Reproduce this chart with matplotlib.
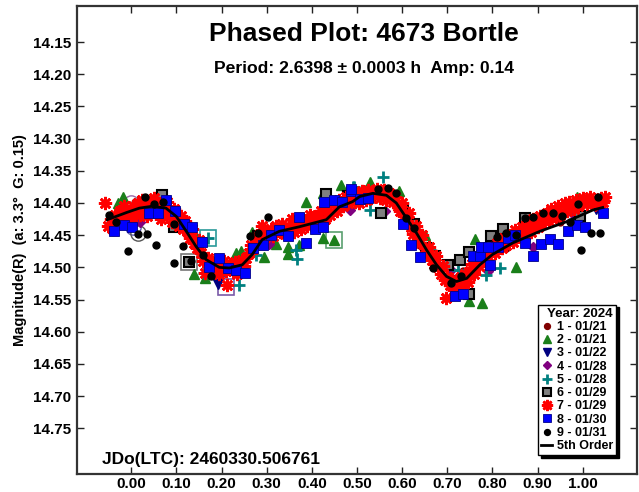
import numpy as np
import matplotlib
matplotlib.use('Agg')
import matplotlib.pyplot as plt

plt.rcParams['font.family'] = ['Liberation Sans', 'DejaVu Sans']
plt.rcParams['font.weight'] = 'bold'

# ---------- 数据：各观测夜的相位与星等 ----------
# 1 - 01/21
p1 = [0.000, 0.060, 0.205, 0.300, 0.535, 0.640, 0.735, 0.830, 0.950]
m1 = [14.415, 14.410, 14.500, 14.455, 14.390, 14.465, 14.505, 14.470, 14.430]

# 2 - 01/21
p2 = [-0.030, -0.019, 0.140, 0.140, 0.164, 0.232, 0.243, 0.268, 0.295, 0.321,
      0.347, 0.347, 0.371, 0.387, 0.424, 0.424, 0.450, 0.465, 0.491, 0.528,
      0.594, 0.650, 0.749, 0.761, 0.777, 0.853, 0.986]
m2 = [14.400, 14.390, 14.447, 14.510, 14.517, 14.478, 14.474, 14.445, 14.484, 14.463,
      14.469, 14.479, 14.465, 14.399, 14.385, 14.455, 14.457, 14.372, 14.380, 14.368,
      14.382, 14.450, 14.552, 14.456, 14.556, 14.500, 14.391]

# 3 - 01/22
p3 = [0.050, 0.192, 0.200, 0.430, 0.600, 0.680, 0.720, 0.880, 0.990, 1.030]
m3 = [14.410, 14.526, 14.510, 14.420, 14.410, 14.500, 14.520, 14.450, 14.420, 14.410]

# 4 - 01/28
p4 = [0.020, 0.150, 0.250, 0.306, 0.400, 0.484, 0.561, 0.655, 0.709, 0.790,
      0.890, 0.976]
m4 = [14.430, 14.460, 14.490, 14.464, 14.430, 14.411, 14.412, 14.470, 14.504, 14.505,
      14.468, 14.416]

# 5 - 01/28
p5 = [0.020, 0.162, 0.171, 0.239, 0.276, 0.365, 0.367, 0.491, 0.494, 0.528,
      0.557, 0.661, 0.724, 0.786, 0.816, 0.920, 0.949]
m5 = [14.400, 14.509, 14.455, 14.527, 14.481, 14.473, 14.487, 14.375, 14.375, 14.411,
      14.360, 14.473, 14.504, 14.512, 14.501, 14.424, 14.411]

# 6 - 01/29
p6 = [0.069, 0.095, 0.129, 0.280, 0.432, 0.480, 0.480, 0.554, 0.602, 0.627,
      0.653, 0.672, 0.702, 0.727, 0.749, 0.749, 0.797, 0.823, 0.871, 0.993]
m6 = [14.388, 14.437, 14.491, 14.452, 14.386, 14.389, 14.390, 14.416, 14.408, 14.433,
      14.470, 14.483, 14.496, 14.489, 14.476, 14.541, 14.452, 14.441, 14.424, 14.420]

# 7 - 01/29
p7 = [-0.058, -0.052, -0.045, -0.040, -0.035, -0.030, -0.025, -0.020, -0.015, -0.010,
      -0.005, 0.000, 0.005, 0.010, 0.015, 0.020, 0.025, 0.030, 0.035, 0.040,
      0.045, 0.050, 0.055, 0.060, 0.065, 0.070, 0.075, 0.080, 0.085, 0.090,
      0.095, 0.100, 0.105, 0.110, 0.115, 0.120, 0.125, 0.130, 0.135, 0.140,
      0.145, 0.150, 0.155, 0.160, 0.163, 0.170, 0.175, 0.180, 0.185, 0.190,
      0.195, 0.200, 0.205, 0.210, 0.212, 0.218, 0.225, 0.230, 0.235, 0.240,
      0.245, 0.250, 0.255, 0.260, 0.265, 0.270, 0.275, 0.280, 0.285, 0.290,
      0.295, 0.300, 0.310, 0.315, 0.320, 0.330, 0.335, 0.340, 0.350, 0.355,
      0.360, 0.370, 0.375, 0.380, 0.390, 0.395, 0.400, 0.410, 0.415, 0.420,
      0.430, 0.435, 0.440, 0.450, 0.455, 0.460, 0.470, 0.475, 0.480, 0.490,
      0.495, 0.500, 0.505, 0.510, 0.520, 0.525, 0.530, 0.540, 0.545, 0.550,
      0.560, 0.565, 0.570, 0.580, 0.585, 0.590, 0.595, 0.600, 0.605, 0.610,
      0.615, 0.620, 0.625, 0.630, 0.635, 0.640, 0.645, 0.650, 0.655, 0.660,
      0.665, 0.670, 0.675, 0.680, 0.685, 0.690, 0.695, 0.698, 0.700, 0.705,
      0.710, 0.715, 0.720, 0.725, 0.730, 0.735, 0.740, 0.745, 0.750, 0.755,
      0.760, 0.765, 0.770, 0.775, 0.780, 0.785, 0.790, 0.800, 0.805, 0.810,
      0.820, 0.825, 0.830, 0.840, 0.845, 0.850, 0.860, 0.865, 0.870, 0.880,
      0.885, 0.890, 0.900, 0.905, 0.910, 0.920, 0.925, 0.930, 0.940, 0.945,
      0.950, 0.960, 0.965, 0.970, 0.980, 0.985, 0.990, 1.000, 1.010, 1.015,
      1.020, 1.030, 1.035, 1.040, 1.045, 1.050]
m7 = [14.400, 14.435, 14.425, 14.440, 14.418, 14.430, 14.412, 14.425, 14.405, 14.420,
      14.412, 14.428, 14.405, 14.415, 14.400, 14.418, 14.395, 14.410, 14.420, 14.398,
      14.410, 14.392, 14.415, 14.400, 14.425, 14.405, 14.415, 14.398, 14.420, 14.430,
      14.410, 14.425, 14.435, 14.420, 14.440, 14.428, 14.445, 14.455, 14.440, 14.462,
      14.470, 14.458, 14.478, 14.490, 14.508, 14.485, 14.498, 14.492, 14.505, 14.495,
      14.510, 14.500, 14.490, 14.505, 14.527, 14.495, 14.505, 14.492, 14.510, 14.500,
      14.488, 14.498, 14.485, 14.478, 14.465, 14.472, 14.455, 14.462, 14.448, 14.435,
      14.455, 14.445, 14.440, 14.452, 14.435, 14.445, 14.432, 14.448, 14.438, 14.425,
      14.445, 14.432, 14.440, 14.425, 14.435, 14.418, 14.430, 14.420, 14.435, 14.412,
      14.425, 14.405, 14.418, 14.400, 14.412, 14.395, 14.405, 14.390, 14.400, 14.385,
      14.398, 14.388, 14.400, 14.382, 14.395, 14.380, 14.392, 14.385, 14.378, 14.392,
      14.380, 14.395, 14.385, 14.398, 14.390, 14.405, 14.412, 14.400, 14.420, 14.428,
      14.415, 14.438, 14.448, 14.435, 14.455, 14.462, 14.450, 14.470, 14.480, 14.468,
      14.488, 14.495, 14.482, 14.500, 14.510, 14.498, 14.520, 14.548, 14.515, 14.528,
      14.518, 14.535, 14.522, 14.540, 14.515, 14.528, 14.510, 14.522, 14.505, 14.495,
      14.510, 14.488, 14.498, 14.480, 14.490, 14.472, 14.482, 14.470, 14.478, 14.462,
      14.470, 14.455, 14.465, 14.450, 14.460, 14.442, 14.452, 14.438, 14.448, 14.432,
      14.445, 14.425, 14.438, 14.420, 14.432, 14.415, 14.428, 14.410, 14.422, 14.405,
      14.418, 14.400, 14.412, 14.398, 14.410, 14.395, 14.405, 14.392, 14.402, 14.390,
      14.400, 14.395, 14.405, 14.392, 14.398, 14.390]

# 8 - 01/30
p8 = [-0.038, -0.017, 0.001, 0.040, 0.060, 0.078, 0.098, 0.118, 0.135, 0.156,
      0.173, 0.195, 0.214, 0.232, 0.251, 0.269, 0.291, 0.310, 0.328, 0.347,
      0.371, 0.387, 0.406, 0.424, 0.428, 0.448, 0.467, 0.486, 0.487, 0.506,
      0.524, 0.602, 0.620, 0.639, 0.716, 0.735, 0.757, 0.772, 0.775, 0.790,
      0.794, 0.812, 0.834, 0.849, 0.871, 0.890, 0.908, 0.927, 0.945, 0.968,
      0.986, 1.005, 1.045]
m8 = [14.443, 14.434, 14.438, 14.416, 14.416, 14.396, 14.412, 14.433, 14.437, 14.460,
      14.500, 14.486, 14.501, 14.504, 14.509, 14.470, 14.465, 14.450, 14.442, 14.452,
      14.421, 14.462, 14.441, 14.438, 14.398, 14.395, 14.399, 14.381, 14.379, 14.394,
      14.393, 14.432, 14.465, 14.484, 14.544, 14.541, 14.483, 14.483, 14.469, 14.468,
      14.496, 14.468, 14.455, 14.450, 14.462, 14.482, 14.463, 14.456, 14.464, 14.443,
      14.434, 14.438, 14.415]

# 9 - 01/31
p9 = [-0.050, -0.033, -0.006, 0.016, 0.031, 0.036, 0.051, 0.055, 0.071, 0.095,
      0.095, 0.115, 0.132, 0.158, 0.177, 0.262, 0.280, 0.302, 0.546, 0.568,
      0.587, 0.609, 0.627, 0.668, 0.709, 0.731, 0.809, 0.831, 0.853, 0.871,
      0.890, 0.912, 0.934, 0.953, 0.971, 0.990, 0.997, 1.019, 1.034, 1.038]
m9 = [14.419, 14.429, 14.474, 14.448, 14.390, 14.448, 14.401, 14.465, 14.398, 14.493,
      14.432, 14.467, 14.490, 14.481, 14.514, 14.452, 14.447, 14.421, 14.379, 14.377,
      14.385, 14.424, 14.439, 14.501, 14.525, 14.514, 14.453, 14.447, 14.450, 14.424,
      14.421, 14.416, 14.416, 14.420, 14.429, 14.402, 14.473, 14.447, 14.390, 14.447]

# 被标记的点（空心符号）
flag_p = [-0.001, 0.016, 0.003, 0.016]
flag_m = [14.4005, 14.403, 14.437, 14.447]
flag_c = ['#9a6aa8', '#a08080', '#5a5ab0', '#555555']
box_p = [0.171, 0.129, 0.210, 0.450]
box_m = [14.455, 14.491, 14.530, 14.457]
box_c = ['#2a9a9a', '#777777', '#7a5aa8', '#5aa070']

# 5 阶拟合曲线
fit_p = [-0.053, -0.011, 0.018, 0.047, 0.077, 0.100, 0.122, 0.144, 0.166, 0.195,
         0.217, 0.246, 0.268, 0.290, 0.328, 0.372, 0.432, 0.461, 0.490, 0.506,
         0.535, 0.565, 0.587, 0.610, 0.632, 0.654, 0.676, 0.698, 0.720, 0.743,
         0.772, 0.800, 0.845, 0.905, 0.964, 1.022, 1.044]
fit_m = [14.426, 14.415, 14.408, 14.405, 14.408, 14.421, 14.444, 14.468, 14.488, 14.500,
         14.501, 14.496, 14.480, 14.457, 14.444, 14.437, 14.426, 14.406, 14.398, 14.390,
         14.385, 14.388, 14.400, 14.424, 14.447, 14.473, 14.496, 14.514, 14.522, 14.517,
         14.496, 14.480, 14.462, 14.444, 14.429, 14.411, 14.407]

x_ticks = [0.0, 0.1, 0.2, 0.3, 0.4, 0.5, 0.6, 0.7, 0.8, 0.9, 1.0]
y_ticks = [14.15, 14.20, 14.25, 14.30, 14.35, 14.40, 14.45, 14.50, 14.55,
           14.60, 14.65, 14.70, 14.75]

# ---------- 绘图 ----------
fig = plt.figure(figsize=(6.39, 4.92), dpi=100)
ax = fig.add_axes([0.1205, 0.0366, 0.8764, 0.9512])

for x, y, c in zip(flag_p, flag_m, flag_c):
    ax.plot(x, y, 'o', ms=11, mfc='none', mec=c, mew=1)
for x, y, c in zip(box_p, box_m, box_c):
    ax.plot(x, y, 's', ms=11, mfc='none', mec=c, mew=1.2)

ax.plot(p1, m1, 'o', ms=5, color='#800000', ls='none', label='1 - 01/21')
ax.plot(p2, m2, '^', ms=6.5, color='#1a7f1a', ls='none', label='2 - 01/21')
ax.plot(p3, m3, 'v', ms=6.5, color='#000080', ls='none', label='3 - 01/22')
ax.plot(p4, m4, 'D', ms=5, color='#800080', ls='none', label='4 - 01/28')
ax.plot(p5, m5, '+', ms=8, mew=2, color='#008080', ls='none', label='5 - 01/28')
ax.plot(p6, m6, 's', ms=7, mfc='#808080', mec='black', mew=1.5, ls='none',
        label='6 - 01/29')
ax.plot(p7, m7, marker=(8, 2, 0), ms=9.5, mew=1.9, color='#ff0000', ls='none',
        label='7 - 01/29')
ax.plot(p8, m8, 's', ms=7, mfc='#0000ff', mec='#00008a', mew=0.6, ls='none',
        label='8 - 01/30')
ax.plot(p9, m9, 'o', ms=5, color='black', ls='none', label='9 - 01/31')
ax.plot(fit_p, fit_m, color='black', lw=2, label='5th Order')

ax.set_xlim(-0.12, 1.12)
ax.set_ylim(14.821, 14.094)
ax.set_xticks(x_ticks)
ax.set_xticklabels([f'{v:.2f}' for v in x_ticks])
ax.set_yticks(y_ticks)
ax.set_yticklabels([f'{v:.2f}' for v in y_ticks])
ax.tick_params(direction='in', length=5, width=1, top=True, right=True,
               labelsize=11, colors='#222222')
ax.tick_params(axis='x', pad=2.5)
ax.tick_params(axis='y', pad=4)
for lab in ax.get_xticklabels() + ax.get_yticklabels():
    lab.set_fontweight('bold')
    lab.set_color('black')
for sp in ax.spines.values():
    sp.set_linewidth(1.6)
    sp.set_color('#333333')

leg = ax.legend(loc='lower right', bbox_to_anchor=(0.9625, 0.040), fontsize=9,
                title='Year: 2024', title_fontproperties={'weight': 'bold', 'size': 9.5},
                frameon=True, fancybox=False, edgecolor='black', framealpha=1,
                shadow={'color': 'black', 'alpha': 1}, borderpad=0.25,
                labelspacing=0.1, handlelength=0.9, handletextpad=0.35,
                borderaxespad=0, markerscale=0.85)
leg.get_frame().set_linewidth(1)
leg._legend_box.align = 'right'
for t in leg.get_texts():
    t.set_fontweight('bold')

fig.text(0.5696, 0.931, 'Phased Plot: 4673 Bortle', ha='center', va='center',
         fontsize=19, fontweight='bold')
fig.text(0.5696, 0.860, 'Period: 2.6398 \u00b1 0.0003 h  Amp: 0.14', ha='center',
         va='center', fontsize=12.6, fontweight='bold')
fig.text(0.160, 0.067, 'JDo(LTC): 2460330.506761', ha='left', va='center',
         fontsize=12.5, fontweight='bold')
fig.text(0.031, 0.512, 'Magnitude(R)  (a: 3.3\u00b0  G: 0.15)', rotation=90,
         ha='center', va='center', fontsize=10.5, fontweight='bold')

plt.savefig('out.png', dpi=100)
plt.close(fig)
